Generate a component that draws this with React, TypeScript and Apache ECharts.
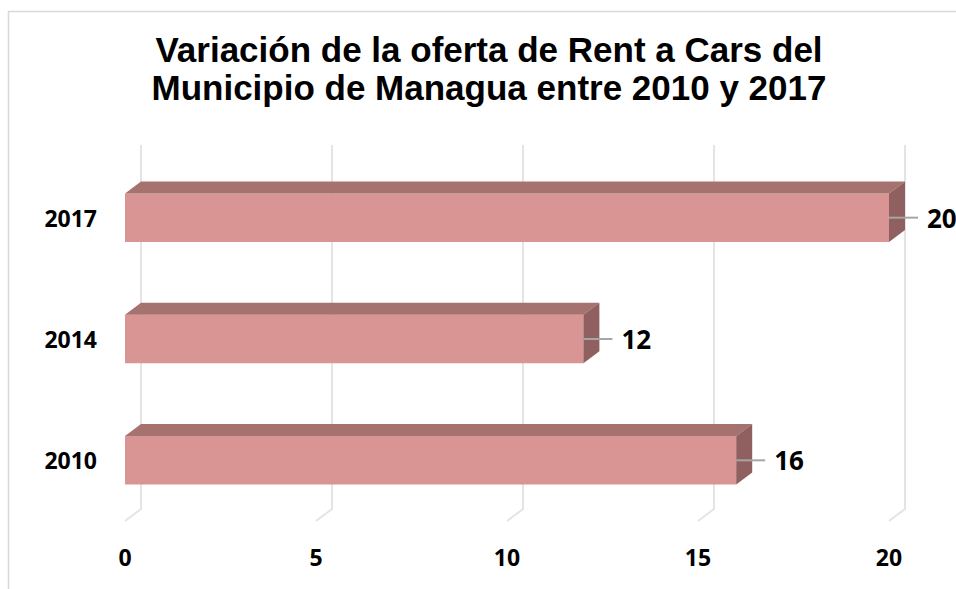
import React, { useEffect, useRef } from "react";
import * as echarts from "echarts";

const titleLines = ["Variación de la oferta de Rent a Cars del", "Municipio de Managua entre 2010 y 2017"];
const categories = ["2010", "2014", "2017"];
const values = [16, 12, 20];
const xTicks = [0, 5, 10, 15, 20];

const DX = 16;
const DY = 12;
const FRONT = "#D99594";
const TOP = "#A6726F";
const SIDE = "#8F605F";
const LABEL_FONT = "'Open Sans', Lato, sans-serif";

export default function App() {
  const ref = useRef<HTMLDivElement>(null);
  useEffect(() => {
    if (!ref.current) return;
    const chart = echarts.init(ref.current, undefined, { renderer: "svg" });
    const option: any = {
      animation: false,
      backgroundColor: "#ffffff",
      grid: { left: 125, right: 67, top: 157, bottom: 68, containLabel: false },
      xAxis: {
        type: "value",
        min: 0,
        max: 20,
        interval: 5,
        axisLine: { show: false },
        axisTick: { show: false },
        splitLine: { show: false },
        axisLabel: {
          margin: 24,
          color: "#000",
          fontFamily: LABEL_FONT,
          fontWeight: "bold",
          fontSize: 23,
        },
      },
      yAxis: {
        type: "category",
        data: categories,
        axisLine: { show: false },
        axisTick: { show: false },
        splitLine: { show: false },
        axisLabel: {
          margin: 28,
          color: "#000",
          fontFamily: LABEL_FONT,
          fontWeight: "bold",
          fontSize: 23,
        },
      },
      graphic: [
        {
          type: "rect",
          shape: { x: 8.5, y: 11.5, width: 1200, height: 1200 },
          style: { fill: "none", stroke: "#d9d9d9", lineWidth: 1.5 },
          silent: true,
          z: -10,
        },
        {
          type: "text",
          x: 489,
          y: 30,
          style: {
            text: titleLines.join("\n"),
            font: "bold 35px 'Liberation Sans', Arial, sans-serif",
            fill: "#000",
            align: "center",
            textAlign: "center",
            lineHeight: 38,
          },
        },
      ],
      series: [
        {
          type: "custom",
          name: "grid",
          silent: true,
          z: 1,
          data: xTicks.map((t) => [t, 0]),
          encode: { x: 0, y: 1 },
          renderItem: (params: any, api: any) => {
            const cs = params.coordSys;
            const px = api.coord([api.value(0), 0])[0];
            const yTop = cs.y;
            const yBot = cs.y + cs.height;
            return {
              type: "polyline",
              shape: {
                points: [
                  [px + DX, yTop - DY],
                  [px + DX, yBot - DY],
                  [px, yBot],
                ],
              },
              style: { stroke: "#e4e4e4", lineWidth: 2, fill: "none" },
            };
          },
        },
        {
          type: "custom",
          name: "bars",
          z: 2,
          data: values.map((v, i) => [v, i]),
          encode: { x: 0, y: 1 },
          renderItem: (params: any, api: any) => {
            const v = api.value(0);
            const ci = api.value(1);
            const p0 = api.coord([0, ci]);
            const p1 = api.coord([v, ci]);
            const bandH = api.size([0, 1])[1];
            const h = bandH * 0.4;
            const x0 = p0[0];
            const x1 = p1[0];
            const cy = p0[1];
            const top = cy - h / 2;
            const bot = cy + h / 2;
            return {
              type: "group",
              children: [
                {
                  type: "rect",
                  shape: { x: x0, y: top, width: x1 - x0, height: h },
                  style: { fill: FRONT },
                },
                {
                  type: "polygon",
                  shape: {
                    points: [
                      [x0, top],
                      [x0 + DX, top - DY],
                      [x1 + DX, top - DY],
                      [x1, top],
                    ],
                  },
                  style: { fill: TOP },
                },
                {
                  type: "polygon",
                  shape: {
                    points: [
                      [x1, top],
                      [x1 + DX, top - DY],
                      [x1 + DX, bot - DY],
                      [x1, bot],
                    ],
                  },
                  style: { fill: SIDE },
                },
                {
                  type: "line",
                  shape: { x1: x1, y1: cy, x2: x1 + 29, y2: cy },
                  style: { stroke: "#a6a6a6", lineWidth: 2 },
                },
                {
                  type: "text",
                  x: x1 + 38,
                  y: cy,
                  style: {
                    text: String(v),
                    font: "bold 26px " + LABEL_FONT,
                    fill: "#000",
                    align: "left",
                    verticalAlign: "middle",
                    textAlign: "left",
                    textVerticalAlign: "middle",
                  },
                },
              ],
            };
          },
        },
      ],
    };
    chart.setOption(option);
    return () => chart.dispose();
  }, []);
  return (
    <div
      ref={ref}
      style={{ position: "fixed", left: 0, top: 0, width: 956, height: 589 }}
    />
  );
}
